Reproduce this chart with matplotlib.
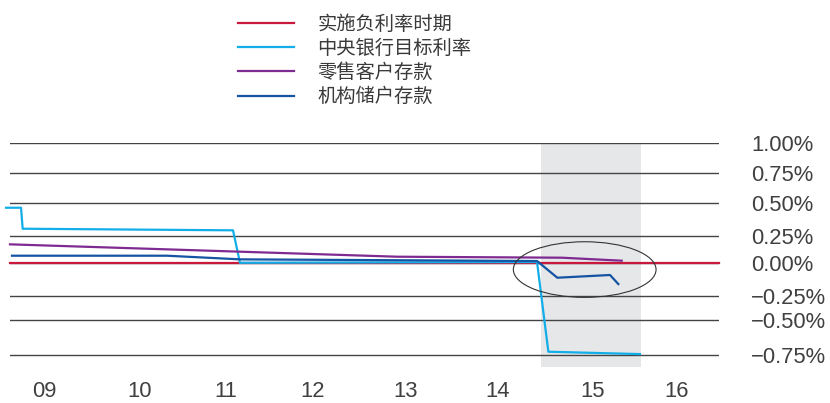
import numpy as np
import matplotlib
matplotlib.use("Agg")
import matplotlib.pyplot as plt
from matplotlib.patches import Ellipse
from matplotlib.transforms import ScaledTranslation

# ---------------- data ----------------
series_labels = ["实施负利率时期", "中央银行目标利率", "零售客户存款", "机构储户存款"]

neg_x = [2008.62, 2016.46]
neg_y = [0.0, 0.0]

cb_x = [2008.58, 2008.746, 2008.764, 2011.09, 2011.167, 2014.452, 2014.577, 2015.59]
cb_y = [0.462, 0.462, 0.303, 0.291, 0.005, 0.012, -0.726, -0.743]

retail_x = [2008.624, 2012.904, 2014.725, 2015.388]
retail_y = [0.172, 0.060, 0.051, 0.024]

inst_x = [2008.646, 2010.36, 2011.167, 2014.452, 2014.676, 2015.259, 2015.351]
inst_y = [0.069, 0.069, 0.036, 0.021, -0.111, -0.090, -0.160]

neg_period = (2014.496, 2015.602)
highlight_center = (2014.979, -0.048)

year_ticks = [2009.0, 2010.06, 2011.01, 2011.97, 2013.0, 2014.02, 2015.07, 2016.0]
year_labels = ["09", "10", "11", "12", "13", "14", "15", "16"]

rate_ticks = [-0.75, -0.5, -0.25, 0.0, 0.25, 0.5, 0.75, 1.0]
rate_labels = ["\u22120.75%", "\u22120.50%", "\u22120.25%", "0.00%", "0.25%", "0.50%", "0.75%", "1.00%"]

# irregular vertical spacing of the gridlines (value -> relative position)
scale_vals = [-1.0, -0.75, -0.5, -0.25, 0.0, 0.25, 0.5, 0.75, 1.0, 1.25]
scale_pos = [-389.7, -355.0, -320.3, -295.7, -263.3, -235.7, -202.7, -173.3, -143.3, -113.3]

colors = ["#c8193c", "#12aee8", "#7e2a91", "#1553a3"]

# ---------------- figure ----------------
W, H = 830, 403
fig = plt.figure(figsize=(W / 100, H / 100), dpi=100)
ax = fig.add_axes([10 / W, 36 / H, 709 / W, 223.7 / H])


def fwd(v):
    return np.interp(v, scale_vals, scale_pos)


def inv(p):
    return np.interp(p, scale_pos, scale_vals)


ax.set_yscale("function", functions=(fwd, inv))
ax.set_xlim(2008.624, 2016.464)
ax.set_ylim(-0.836, 1.0)

ax.axvspan(neg_period[0], neg_period[1], color="#e6e7e8", zorder=0, lw=0)

lw = 1.6
ax.plot(neg_x, neg_y, color=colors[0], lw=lw, label=series_labels[0], clip_on=False, zorder=2)
ax.plot(cb_x, cb_y, color=colors[1], lw=lw, label=series_labels[1], clip_on=False, zorder=3)
ax.plot(retail_x, retail_y, color=colors[2], lw=lw, label=series_labels[2], clip_on=False, zorder=4)
ax.plot(inst_x, inst_y, color=colors[3], lw=lw, label=series_labels[3], clip_on=False, zorder=5)

# ellipse highlighting the deposit rates in the negative-rate period
etrans = fig.dpi_scale_trans + ScaledTranslation(highlight_center[0], highlight_center[1], ax.transData)
ax.add_patch(Ellipse((0, 0), 1.427, 0.556, transform=etrans, fill=False,
                     edgecolor="#333333", lw=0.8, zorder=6, clip_on=False))

ax.set_yticks(rate_ticks)
ax.set_yticklabels(rate_labels)
ax.set_xticks(year_ticks)
ax.set_xticklabels(year_labels)
ax.yaxis.tick_right()
ax.yaxis.grid(True, color="#444444", lw=1.0)
ax.xaxis.grid(False)
ax.tick_params(axis="both", length=0, labelsize=15.8, colors="#404040")
ax.tick_params(axis="y", pad=23)
ax.tick_params(axis="x", pad=10)
for t in ax.get_xticklabels() + ax.get_yticklabels():
    t.set_family(["Liberation Sans", "DejaVu Sans"])
for s in ax.spines.values():
    s.set_visible(False)
ax.minorticks_off()

leg = fig.legend(loc="upper left", bbox_to_anchor=(238 / W, (H - 14) / H),
                 frameon=False, borderpad=0, borderaxespad=0,
                 handlelength=2.88, handletextpad=1.23, labelspacing=0.16,
                 prop={"family": ["Noto Sans CJK SC", "DejaVu Sans"], "size": 13.9})
for t in leg.get_texts():
    t.set_color("#3a3a3a")

fig.savefig("out.png", dpi=100)
